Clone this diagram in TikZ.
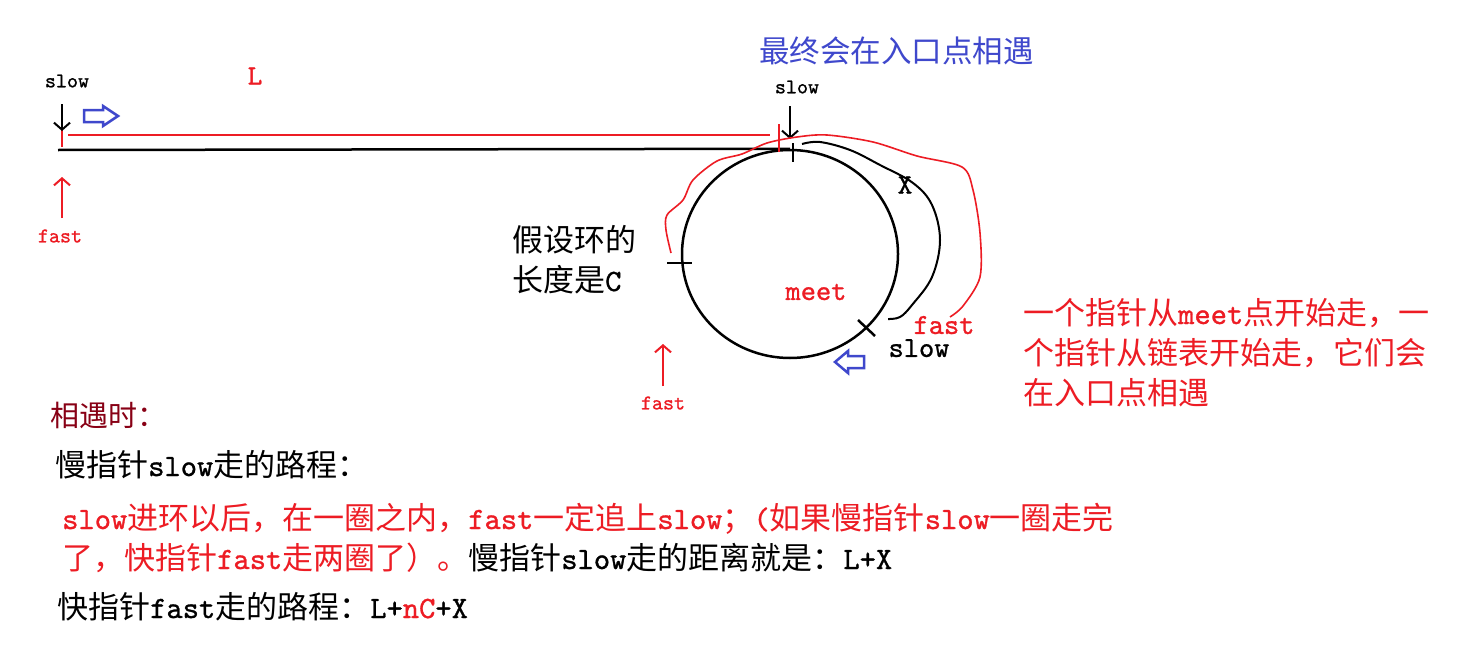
\documentclass[tikz,border=0pt]{standalone}
\usepackage{fontspec}
\newfontfamily\cjk{Noto Sans CJK SC}
\setmonofont{lmmono10-regular.otf}[FakeBold=1]
\usetikzlibrary{arrows.meta,shapes.geometric}
\definecolor{pred}{RGB}{237,28,36}
\definecolor{pblue}{RGB}{63,72,204}
\definecolor{dred}{RGB}{136,0,21}
\newcommand\lt[1]{{\ttfamily #1}}
\tikzset{
  blk/.style={line width=2.5pt,black},
  barb/.style={line width=2pt,-{Straight Barb[length=7pt,width=16pt,line width=2pt]}},
  lbl/.style={font=\ttfamily\fontsize{21}{21}\selectfont,inner sep=0pt},
  mid/.style={font=\ttfamily\fontsize{29}{29}\selectfont,inner sep=0pt},
  cj/.style={font=\cjk\fontsize{31}{40}\selectfont,inner sep=0pt,anchor=base west},
  hollow/.style={draw=pblue,line width=2.5pt,line join=miter},
  rcurve/.style={pred,line width=1.6pt},
}
\begin{document}
\begin{tikzpicture}[x=1pt,y=-1pt]
\useasboundingbox (0,0) rectangle (1471,669);
\fill[white] (0,0) rectangle (1471,669);

% --- straight part ---
\coordinate (start) at (58,150);
\node (ring) [ellipse,draw,line width=2.5pt,minimum width=216pt,minimum height=208pt,inner sep=0pt] at (790,254) {};
\draw[blk] (start) -- (ring.north);
\draw[pred,line width=2.5pt] (68,135) -- (770,135);
\draw[pred,line width=1.5pt] (62,130) -- (62,147);
\draw[pred,line width=1.5pt] (779,124) -- (779,152);

% ticks on ring
\draw[blk] (793,143) -- (793,162);
\draw[blk] (667,263) -- (692,263);
\draw[blk] (858,320) -- (875,336);

% labels top-left
\node[lbl] (slowA) at (67,81) {slow};
\coordinate (slowAtip) at (62,131);
\draw[barb] (62,104) -- (slowAtip);
\node[mid,font=\ttfamily\fontsize{28}{28}\selectfont,text=pred] (L) at (255,76) {L};
\draw[hollow] (84,110) -- (103,110) -- (103,106) -- (118,116) -- (103,126) -- (103,122) -- (84,122) -- cycle;

\node[lbl,text=pred] (fastA) at (60,236) {fast};
\coordinate (fastAtip) at (62,177);
\draw[pred,barb] (62,218) -- (fastAtip);

% title
\node[cj,font=\cjk\fontsize{30.5}{30.5}\selectfont,text=pblue] (title) at (759,63) {最终会在入口点相遇};
\node[lbl] (slowB) at (797,87) {slow};
\coordinate (slowBtip) at (790,139);
\draw[barb] (790,106) -- (slowBtip);

% X curve
\draw[black,line width=2pt] plot[smooth,tension=0.6] coordinates {(802,144) (820,142) (850,150) (880,165) (913,183) (932,205) (940,240) (932,277) (912,305) (900,317) (888,319)};
\node[mid,font=\ttfamily\fontsize{28}{28}\selectfont] (X) at (905,185) {X};

% red fast curve
\draw[rcurve] plot[smooth,tension=0.5] coordinates {(671,253) (666,230) (667,215) (683,200) (693,180) (717,161) (742,154) (767,143) (797,137) (827,135) (873,142) (917,156) (962,167) (973,190) (980,233) (980,277) (963,306) (950,317)};

\node[mid,text=pred] (meet) at (816,292) {meet};
\node[mid,text=pred,text depth=0pt] (fastB) at (944,325) {fast};
\node[mid,text height=12pt] (slowC) at (919,351) {slow};
\draw[hollow] (864,356) -- (848,356) -- (848,351) -- (835,362) -- (848,373) -- (848,368) -- (864,368) -- cycle;

\node[lbl,text=pred] (fastC) at (663,403) {fast};
\coordinate (fastCtip) at (663,344);
\draw[pred,barb] (663,386) -- (fastCtip);

% ring length text
\node[cj] (lenA) at (512,251) {假设环的};
\node[cj] (lenB) at (512,291) {长度是\lt{C}};

% right red text
\node[cj,text=pred] (r1) at (1023,324) {一个指针从\lt{meet}点开始走，一};
\node[cj,text=pred] (r2) at (1023,364) {个指针从链表开始走，它们会};
\node[cj,text=pred] (r3) at (1023,404) {在入口点相遇};

% bottom text
\node[cj,font=\cjk\fontsize{29}{29}\selectfont,text=dred] (meetT) at (50,426) {相遇时：};
\node[cj] (slowPath) at (55,476) {慢指针\lt{slow}走的路程：};
\node[cj,text=pred] (p1) at (62,529) {\lt{slow}进环以后，在一圈之内，\lt{fast}一定追上\lt{slow}；\lt{(}如果慢指针\lt{slow}一圈走完};
\node[cj] (p2) at (62,569) {\textcolor{pred}{了，快指针\lt{fast}走两圈了）。}慢指针\lt{slow}走的距离就是：\lt{L+X}};
\node[cj] (fastPath) at (57,618) {快指针\lt{fast}走的路程：\lt{L+\textcolor{pred}{nC}+X}};
\end{tikzpicture}
\end{document}
